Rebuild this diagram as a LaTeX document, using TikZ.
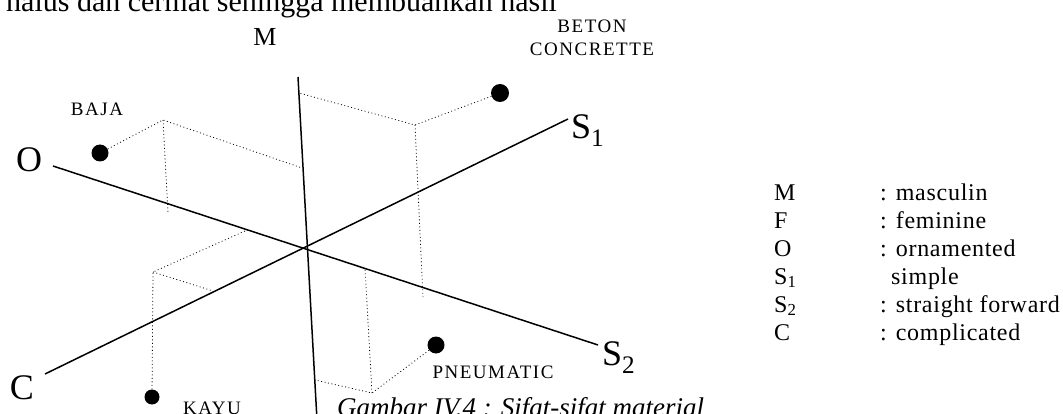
\documentclass[tikz,border=0pt]{standalone}
\usepackage{fontspec}
\setmainfont{Liberation Serif}
\newfontfamily\spacedcaps[LetterSpace=8]{Liberation Serif}
\newfontfamily\spacedtext[LetterSpace=3]{Liberation Serif}
\begin{document}
\begin{tikzpicture}[x=1pt,y=-1pt,
  axis/.style={line width=1.5pt},
  guide/.style={line width=0.8pt, dash pattern=on 0.9pt off 2.6pt},
  ball/.style={circle, fill=black, inner sep=0pt, minimum size=#1},
  axlabel/.style={font=\fontsize{36}{36}\selectfont, inner sep=0pt},
  mat/.style={font=\spacedcaps\fontsize{19}{19}\selectfont, inner sep=0pt},
  legkey/.style={font=\fontsize{24}{24}\selectfont, inner sep=0pt, anchor=base west},
  legtext/.style={font=\spacedtext\fontsize{24}{24}\selectfont, inner sep=0pt, anchor=base west},
  body/.style={inner sep=0pt, anchor=base west},
]
\useasboundingbox (0,0) rectangle (1063,414);
\clip (0,0) rectangle (1063,414);

% cut-off line of body text
\node[body, font=\fontsize{30}{30}\selectfont] (toptext) at (6,12) {halus dan cermat sehingga membuahkan hasil};

% axes
\coordinate (Z) at (307,247);
\coordinate (Mtop) at (298,77);
\coordinate (Mbot) at (317,420);
\coordinate (Oend) at (53,166);
\coordinate (S2end) at (598,345);
\coordinate (Cend) at (45,374);
\coordinate (S1end) at (568,119);
\draw[axis] (Mtop) -- (Mbot);
\draw[axis] (Oend) -- (S2end);
\draw[axis] (Cend) -- (S1end);

% axis labels
\node[font=\fontsize{26}{26}\selectfont, inner sep=0pt] (Mlab) at (265,37) {M};
\node[axlabel] (Olab) at (29,160) {O};
\node[axlabel] (Clab) at (22,388) {C};
\node[axlabel, anchor=west] (S1lab) at (571,131) {S\textsubscript{1}};
\node[axlabel, anchor=west] (S2lab) at (602,358) {S\textsubscript{2}};

% material balls
\node[ball=17pt] (baja) at (100,153) {};
\node[ball=18pt] (beton) at (500,93) {};
\node[ball=15pt] (kayu) at (152,397) {};
\node[ball=17pt] (pneu) at (436,345) {};

% guide lines
\coordinate (Bc) at (163,120);
\coordinate (Bm) at (302,168);
\coordinate (Bo) at (168,213);
\draw[guide] (baja) -- (Bc) -- (Bm);
\draw[guide] (Bc) -- (Bo);

\coordinate (Tc) at (415,125);
\coordinate (Tm) at (299,93);
\coordinate (Tv) at (423,297);
\draw[guide] (beton) -- (Tc) -- (Tm);
\draw[guide] (Tc) -- (Tv);

\coordinate (Kc) at (153,272);
\coordinate (Ko) at (245,231);
\coordinate (Ks) at (213,291);
\draw[guide] (kayu) -- (Kc) -- (Ko);
\draw[guide] (Kc) -- (Ks);

\coordinate (Pc) at (372,393);
\coordinate (Pm) at (315,380);
\coordinate (Ps) at (365,268);
\draw[guide] (pneu) -- (Pc) -- (Pm);
\draw[guide] (Pc) -- (Ps);

% material labels
\node[mat] (bajaL) at (97,109) {BAJA};
\node[mat] (betonL) at (592,26) {BETON};
\node[mat] (concL) at (592,49) {CONCRETTE};
\node[mat] (kayuL) at (212,408) {KAYU};
\node[mat] (pneuL) at (493,372) {PNEUMATIC};

% caption (cut off at bottom)
\node[body, font=\itshape\fontsize{27}{27}\selectfont] (cap) at (337,416) {Gambar IV.4 : Sifat-sifat material};

% legend
\node[legkey] (l1) at (774,201) {M};
\node[legkey] (l2) at (774,229) {F};
\node[legkey] (l3) at (774,257) {O};
\node[legkey] (l4) at (774,284) {S\textsubscript{1}};
\node[legkey] (l5) at (774,312) {S\textsubscript{2}};
\node[legkey] (l6) at (774,340) {C};
\node[legtext] (t1) at (880,201) {: masculin};
\node[legtext] (t2) at (880,229) {: feminine};
\node[legtext] (t3) at (880,257) {: ornamented};
\node[legtext] (t4) at (891,284) {simple};
\node[legtext] (t5) at (880,312) {: straight forward};
\node[legtext] (t6) at (880,340) {: complicated};
\end{tikzpicture}
\end{document}
